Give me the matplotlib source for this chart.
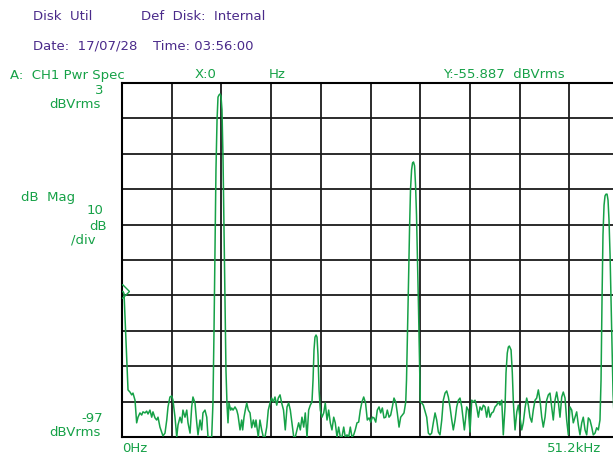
import numpy as np
import matplotlib
matplotlib.use("Agg")
import matplotlib.pyplot as plt

# Power spectrum trace, CH1 (kHz, dBVrms)
freq_khz = [
    0.00, 0.10, 0.21, 0.62, 0.82, 1.00, 1.13, 1.34, 1.51, 1.65, 1.85, 2.03, 2.16, 2.37, 2.54, 2.68,
    2.88, 3.06, 3.19, 3.40, 3.57, 3.71, 3.91, 4.09, 4.22, 4.43, 4.61, 4.74, 4.94, 5.12, 5.25, 5.46,
    5.64, 5.77, 5.98, 6.15, 6.28, 6.49, 6.67, 6.80, 7.01, 7.18, 7.31, 7.52, 7.70, 7.83, 8.04, 8.21,
    8.34, 8.55, 8.73, 8.86, 9.07, 9.24,
    # 10 kHz fundamental
    9.37, 9.48, 9.58, 9.68, 9.79, 9.89, 9.99, 10.10, 10.20, 10.30, 10.41, 10.51, 10.61, 10.71,
    10.82, 10.92,
    11.02, 11.20, 11.30, 11.44, 11.64, 11.82, 11.95, 12.16, 12.33, 12.43, 12.57, 12.70, 12.85,
    13.01, 13.19, 13.36, 13.53, 13.70, 13.80, 13.94, 14.04, 14.21, 14.39, 14.56, 14.73, 14.91,
    15.07, 15.25, 15.42, 15.59, 15.76, 15.94, 16.10, 16.28, 16.45, 16.64, 16.82, 17.00, 17.17,
    17.34, 17.51, 17.69, 17.85, 18.03, 18.20, 18.37, 18.54, 18.72, 18.88, 19.06, 19.23, 19.40,
    19.57,
    # 2nd harmonic
    19.68, 19.78, 19.88, 19.99, 20.09, 20.19, 20.30,
    20.43, 20.60, 20.78, 20.94, 21.12, 21.29, 21.46, 21.63, 21.81, 21.97, 22.15, 22.32, 22.49,
    22.66, 22.84, 23.00, 23.18, 23.35, 23.52, 23.69, 23.87, 24.03, 24.21, 24.38, 24.55, 24.72,
    24.90, 25.09, 25.27, 25.45, 25.62, 25.79, 25.96, 26.14, 26.30, 26.48, 26.65, 26.82, 26.99,
    27.17, 27.33, 27.51, 27.68, 27.85, 28.02, 28.20, 28.36, 28.54, 28.71, 28.88, 29.05, 29.23,
    # 3rd harmonic
    29.31, 29.42, 29.52, 29.62, 29.72, 29.83, 29.93, 30.03, 30.14, 30.24, 30.34, 30.44, 30.55,
    30.65, 30.73,
    30.88, 31.04, 31.39, 31.56, 31.73, 31.90, 32.07, 32.25, 32.42, 32.59, 32.76, 32.94, 33.10,
    33.28, 33.45, 33.62, 33.79, 33.97, 34.13, 34.31, 34.48, 34.65, 34.82, 35.00, 35.16, 35.27,
    35.41, 35.51, 35.68, 35.85, 36.03, 36.19, 36.37, 36.54, 36.71, 36.88, 37.06, 37.22, 37.40,
    37.57, 37.74, 37.91, 38.09, 38.25, 38.43, 38.60, 38.77, 38.94, 39.12, 39.28, 39.46,
    # 4th harmonic
    39.56, 39.69, 39.80, 39.90, 40.00, 40.08, 40.21, 40.32,
    40.49, 40.67, 40.83, 41.00, 41.18, 41.34, 41.52, 41.69, 41.86, 42.03, 42.21, 42.37, 42.55,
    42.72, 42.89, 43.06, 43.24, 43.40, 43.58, 43.75, 43.92, 44.09, 44.27, 44.43, 44.61, 44.78,
    44.95, 45.12, 45.30, 45.46, 45.64, 45.81, 45.98, 46.15, 46.33, 46.49, 46.67, 46.84, 47.01,
    47.18, 47.36, 47.52, 47.70, 47.87, 48.04, 48.21, 48.39, 48.55, 48.73, 48.90, 49.07, 49.24,
    # 5th harmonic
    49.35, 49.45, 49.55, 49.66, 49.76, 49.86, 49.97, 50.07, 50.17, 50.28, 50.38, 50.48, 50.59,
    50.69, 50.90, 51.10, 51.20,
]

level_dbv = [
    -55.9, -55.9, -56.5, -83.7, -84.3, -85.1, -84.6, -86.6, -93.0, -91.4, -90.2, -90.8, -89.9, -90.2, -89.7, -90.5,
    -89.4, -91.4, -89.9, -91.6, -92.2, -91.4, -94.2, -95.6, -96.7, -95.9, -92.2, -88.5, -85.7, -85.4, -86.6, -91.4,
    -97.0, -93.6, -91.4, -93.0, -89.4, -91.4, -89.4, -93.0, -95.9, -88.5, -85.7, -87.4, -93.0, -96.4, -92.2, -95.0,
    -90.2, -89.4, -91.4, -97.0, -97.0, -97.0,
    -87.4, -66.8, -44.2, -21.6, -7.5, -1.0, -0.4, -0.1, -0.7, -4.6, -18.8, -38.5, -58.3, -78.1,
    -88.0, -93.0,
    -87.4, -89.4, -88.8, -89.4, -88.5, -89.4, -90.8, -95.0, -92.2, -95.0, -91.4, -89.4, -87.4,
    -89.4, -90.2, -94.4, -92.2, -94.2, -92.2, -95.0, -97.0, -92.2, -95.0, -97.0, -97.0, -94.2,
    -89.4, -87.4, -86.0, -87.1, -85.7, -88.0, -86.0, -85.1, -87.4, -89.4, -95.0, -88.5, -87.4,
    -89.4, -93.0, -97.0, -97.0, -95.0, -93.0, -95.0, -91.4, -94.2, -90.2, -97.0, -89.4, -88.0,
    -87.1,
    -80.9, -72.4, -68.8, -68.2, -68.8, -73.8, -83.7,
    -89.4, -91.4, -90.2, -87.4, -92.2, -89.4, -93.0, -95.0, -91.4, -93.0, -97.0, -94.2, -97.0,
    -97.0, -94.2, -97.0, -96.4, -97.0, -94.2, -97.0, -96.4, -95.0, -93.0, -92.8, -89.4, -87.1,
    -85.7, -87.4, -92.2, -91.6, -92.8, -91.4, -91.6, -92.8, -89.4, -88.5, -90.2, -88.8, -91.6,
    -91.4, -89.4, -91.4, -90.8, -88.5, -86.0, -87.1, -90.2, -94.2, -91.4, -90.8, -90.2, -87.1,
    -80.9, -66.8, -52.7, -38.5, -27.2, -21.6, -19.6, -19.3, -20.4, -25.8, -34.3, -47.0, -61.1,
    -75.3, -87.1,
    -87.4, -88.0, -91.4, -95.9, -96.4, -95.9, -93.0, -90.2, -92.2, -95.6, -96.4, -92.2, -86.6,
    -84.6, -84.0, -85.7, -88.5, -92.2, -95.0, -92.2, -88.5, -86.6, -86.0, -88.5, -92.2, -95.0,
    -91.4, -88.5, -89.4, -95.6, -86.6, -87.1, -86.6, -88.5, -91.4, -88.5, -89.4, -88.0, -88.5,
    -91.4, -88.5, -91.4, -90.2, -89.9, -88.5, -88.0, -87.1, -88.0, -86.6, -96.4, -88.5,
    -78.9, -73.3, -71.6, -71.3, -71.9, -72.4, -78.9, -87.4,
    -95.0, -89.9, -88.0, -91.4, -95.0, -93.0, -88.8, -86.0, -88.0, -91.4, -92.8, -89.4, -86.6,
    -86.0, -83.7, -86.6, -91.4, -94.2, -91.4, -86.6, -85.1, -84.6, -88.5, -92.2, -86.6, -84.3,
    -87.1, -91.4, -85.7, -84.3, -86.0, -92.2, -96.4, -88.5, -89.4, -93.0, -91.4, -89.9, -93.6,
    -96.4, -93.0, -91.4, -95.0, -96.4, -91.6, -92.2, -94.2, -96.4, -95.9, -94.4, -95.0, -92.2,
    -80.9, -58.3, -39.9, -31.5, -28.9, -28.4, -28.4, -30.1, -35.7, -45.6, -58.3, -72.4, -85.1,
    -90.8, -88.0, -92.2, -89.4,
]

marker_x = 0.0
marker_y = -55.887

f_start, f_stop = 0.0, 51.2
db_top, db_bottom = 3, -97
n_div = 10

GREEN = "#16a147"
PURPLE = "#4a2a8a"

W, H = 613, 455
fig = plt.figure(figsize=(W / 100, H / 100), dpi=100)
fig.patch.set_facecolor("white")

# screen area in pixels: left 122, top 83, 10 divisions of ~49.7 x 35.4 px
ax = fig.add_axes([122 / W, 1 - 437 / H, 497 / W, 354 / H])
ax.set_xlim(f_start, f_stop)
ax.set_ylim(db_bottom, db_top)
ax.set_xticks(np.linspace(f_start, f_stop, n_div + 1))
ax.set_yticks(np.linspace(db_bottom, db_top, n_div + 1))
ax.tick_params(length=0, labelbottom=False, labelleft=False)
ax.grid(True, color="#1a1a1a", linewidth=1.3)
ax.set_axisbelow(True)
for s in ax.spines.values():
    s.set_color("black")
    s.set_linewidth(1.5)

ax.plot(freq_khz, level_dbv, color=GREEN, linewidth=1.1, zorder=3)
ax.plot([marker_x], [marker_y], marker="D", markersize=7, markerfacecolor="none",
        markeredgecolor=GREEN, markeredgewidth=1.0, zorder=4)


def label(x, y, s, color=GREEN, ha="left"):
    fig.text(x / W, 1 - y / H, s, color=color, ha=ha, va="center", fontsize=9.5,
             family="DejaVu Sans")


# header
label(33, 16, "Disk  Util", PURPLE)
label(141, 16, "Def  Disk:  Internal", PURPLE)
label(33, 46, "Date:  17/07/28", PURPLE)
label(153, 46, "Time: 03:56:00", PURPLE)

# trace annotations
label(10, 75, "A:  CH1 Pwr Spec")
label(195, 75, "X:0")
label(269, 75, "Hz")
label(443, 75, "Y:-55.887  dBVrms")

label(103, 91, "3", ha="right")
label(101, 104, "dBVrms", ha="right")
label(21, 198, "dB  Mag")
label(103, 211, "10", ha="right")
label(107, 226, "dB", ha="right")
label(96, 240, "/div", ha="right")
label(103, 418, "-97", ha="right")
label(101, 433, "dBVrms", ha="right")
label(122, 448, "0Hz")
label(601, 448, "51.2kHz", ha="right")

fig.savefig("out.png", dpi=100)
